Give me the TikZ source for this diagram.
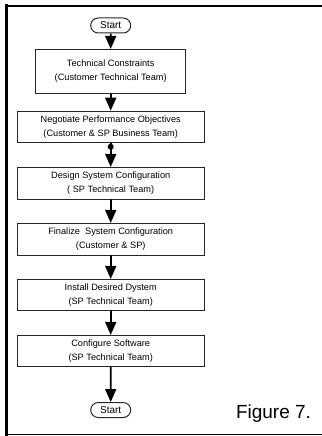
\documentclass[tikz,border=0pt]{standalone}
\usepackage{fontspec}
\setmainfont{Liberation Sans}
\usetikzlibrary{arrows.meta,shapes.misc}

\tikzset{
  procbox/.style={draw=black!85, line width=0.8pt, fill=white,
    minimum width=186.7pt, inner sep=0pt, align=center,
    font=\fontsize{9.2pt}{14pt}\selectfont},
  termbox/.style={draw=black!85, line width=1pt, rounded rectangle,
    minimum width=40pt, minimum height=15pt, inner sep=0pt,
    font=\fontsize{10pt}{11pt}\selectfont},
  flow/.style={line width=1.7pt, -{Triangle[length=13pt,width=11pt]}},
  frameline/.style={line cap=rect}
}

\begin{document}
\begin{tikzpicture}[x=1pt,y=-1pt]
  \useasboundingbox (0,0) rectangle (321,436);

  % page frame
  \draw[frameline, line width=2.6pt] (6.5,6) -- (321,6);
  \draw[frameline, line width=3pt] (6.5,6) -- (6.5,434.5);
  \draw[frameline, line width=1.5pt] (6.5,434.5) -- (321,434.5);

  % terminals
  \node[termbox] (start) at (110.7,25.5) {Start};
  \node[termbox] (finish) at (110.7,410) {Start};

  % process steps
  \node[procbox, minimum width=150pt, minimum height=44pt] (s1) at (110.7,71.3)
    {Technical Constraints\\(Customer Technical Team)};
  \node[procbox, minimum height=31.7pt] (s2) at (110.7,126.9)
    {Negotiate Performance Objectives\\(Customer \& SP Business Team)};
  \node[procbox, minimum height=31.7pt] (s3) at (110.7,183.2)
    {Design System Configuration\\( SP Technical Team)};
  \node[procbox, minimum height=31.7pt] (s4) at (110.7,239.2)
    {Finalize\ \ System Configuration\\(Customer \& SP)};
  \node[procbox, minimum height=30.7pt] (s5) at (110.7,294.7)
    {Install Desired Dystem\\(SP Technical Team)};
  \node[procbox, minimum height=30.7pt] (s6) at (110.7,350.7)
    {Configure Software\\(SP Technical Team)};

  % connectors
  \draw[flow] (start) -- (s1);
  \draw[flow] (s1) -- (s2);
  \draw[flow] (s2) -- (s3);
  \draw[flow] (s3) -- (s4);
  \draw[flow] (s4) -- (s5);
  \draw[flow] (s5) -- (s6);
  \draw[flow] (s6) -- (finish);

  % junction dot under the negotiation step
  \coordinate (dot) at ([yshift=-3.6pt]s2.south);
  \fill (dot) circle (3pt);

  % caption
  \node[font=\fontsize{19pt}{22pt}\selectfont, anchor=base] (cap) at (273.5,418.3) {Figure 7.};
\end{tikzpicture}
\end{document}
